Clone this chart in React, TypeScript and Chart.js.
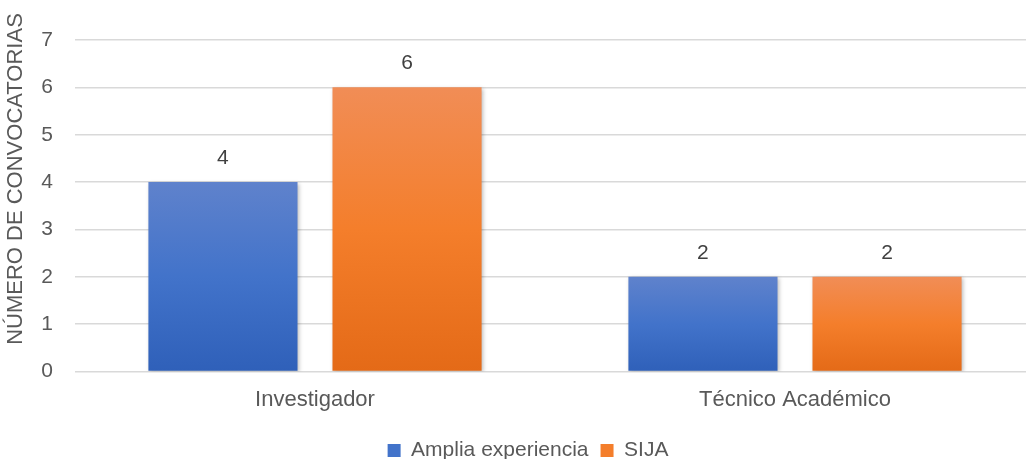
import React, { useEffect, useRef } from "react";
import { Chart, registerables } from "chart.js";

Chart.register(...registerables);

const categories = ["Investigador", "Técnico Académico"];
const seriesNames = ["Amplia experiencia", "SIJA"];
const ampliaValues = [4, 2];
const sijaValues = [6, 2];
const yTicks = [0, 1, 2, 3, 4, 5, 6, 7];
const yAxisTitle = "NÚMERO DE CONVOCATORIAS";

const FONT = "'Liberation Sans', Arial, sans-serif";

const blueStops = ["#5F82CC", "#4273CA", "#2F60B9"];
const orangeStops = ["#F18D56", "#F47E2B", "#E46A17"];

function gradientFor(stops: string[]) {
  return (ctx: any) => {
    const chart = ctx.chart;
    if (!chart.chartArea || ctx.parsed == null) return stops[1];
    const y = chart.scales.y;
    const top = y.getPixelForValue(ctx.parsed.y);
    const bot = y.getPixelForValue(0);
    const g = chart.ctx.createLinearGradient(0, top, 0, bot);
    g.addColorStop(0, stops[0]);
    g.addColorStop(0.5, stops[1]);
    g.addColorStop(1, stops[2]);
    return g;
  };
}

const shadowPlugin = {
  id: "barShadow",
  beforeDatasetsDraw(chart: any) {
    const c = chart.ctx;
    c.save();
    c.shadowColor = "rgba(0,0,0,0.28)";
    c.shadowBlur = 4;
    c.shadowOffsetX = 1.5;
    c.shadowOffsetY = 1.5;
  },
  afterDatasetsDraw(chart: any) {
    chart.ctx.restore();
  },
};

const labelsPlugin = {
  id: "valueLabels",
  afterDatasetsDraw(chart: any) {
    const c = chart.ctx;
    c.save();
    c.font = `21px ${FONT}`;
    c.fillStyle = "#404040";
    c.textAlign = "center";
    c.textBaseline = "middle";
    chart.data.datasets.forEach((ds: any, i: number) => {
      const meta = chart.getDatasetMeta(i);
      meta.data.forEach((el: any, j: number) => {
        c.fillText(String(ds.data[j]), el.x, el.y - 24);
      });
    });
    c.restore();
  },
};

const yTitlePlugin = {
  id: "yTitle",
  afterDraw(chart: any) {
    const c = chart.ctx;
    c.save();
    c.translate(16, 179);
    c.rotate(-Math.PI / 2);
    c.font = `22px ${FONT}`;
    c.fillStyle = "#595959";
    c.textAlign = "center";
    c.textBaseline = "middle";
    c.fillText(yAxisTitle, 0, 0);
    c.restore();
  },
};

export default function App() {
  const ref = useRef<HTMLCanvasElement>(null);
  useEffect(() => {
    if (!ref.current) return;
    const chart = new Chart(ref.current, {
      type: "bar",
      data: {
        labels: categories,
        datasets: [
          {
            label: seriesNames[0],
            data: ampliaValues,
            backgroundColor: gradientFor(blueStops),
            categoryPercentage: 0.767,
            barPercentage: 0.81,
          },
          {
            label: seriesNames[1],
            data: sijaValues,
            backgroundColor: gradientFor(orangeStops),
            categoryPercentage: 0.767,
            barPercentage: 0.81,
          },
        ],
      },
      options: {
        responsive: false,
        animation: false,
        layout: { padding: { top: 40, right: 22, left: 21, bottom: 0 } },
        scales: {
          x: {
            grid: { display: false },
            border: { display: false },
            afterFit: (s: any) => {
              s.height += 8;
            },
            ticks: {
              color: "#595959",
              font: { size: 22, family: FONT },
              padding: 7,
            },
          },
          y: {
            min: 0,
            max: 7,
            afterFit: (s: any) => {
              s.width = 54;
            },
            afterBuildTicks: (s: any) => {
              s.ticks = yTicks.map((v) => ({ value: v }));
            },
            grid: { color: "#D9D9D9", lineWidth: 1.5, drawTicks: false },
            border: { display: false },
            ticks: {
              color: "#595959",
              font: { size: 21, family: FONT },
              padding: 22,
            },
          },
        },
        plugins: {
          legend: {
            position: "bottom",
            labels: {
              boxWidth: 13,
              boxHeight: 13,
              padding: 12,
              color: "#595959",
              font: { size: 21, family: FONT },
              generateLabels: () => [
                { text: seriesNames[0], fillStyle: blueStops[1], strokeStyle: blueStops[1], fontColor: "#595959", lineWidth: 0, datasetIndex: 0 },
                { text: seriesNames[1], fillStyle: orangeStops[1], strokeStyle: orangeStops[1], fontColor: "#595959", lineWidth: 0, datasetIndex: 1 },
              ],
            },
          },
          title: { display: false },
          tooltip: { enabled: false },
        },
      },
      plugins: [shadowPlugin, labelsPlugin, yTitlePlugin],
    });
    return () => chart.destroy();
  }, []);
  return (
    <div style={{ position: "fixed", left: 0, top: 0, width: 1026, height: 459, overflow: "hidden", background: "#fff" }}>
      <canvas ref={ref} width={1057} height={471} style={{ display: "block", width: 1057, height: 471 }} />
    </div>
  );
}
